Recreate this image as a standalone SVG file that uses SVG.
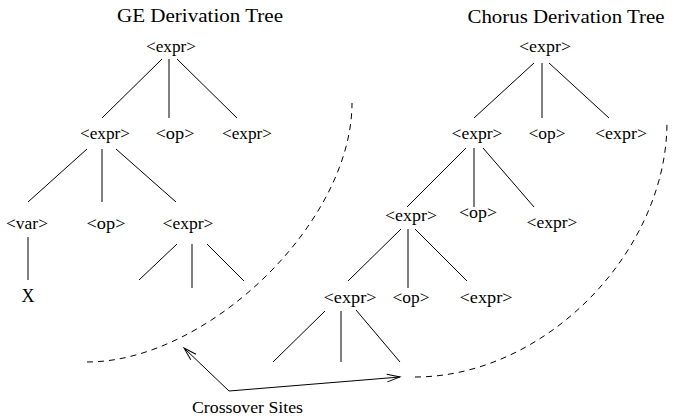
<svg xmlns="http://www.w3.org/2000/svg" width="683" height="419" viewBox="0 0 683 419">
<style>
text{font-family:"Liberation Serif","Times New Roman",serif;font-size:17px;fill:#000;text-anchor:middle}
.t{font-size:18.5px}
.e{stroke:#000;stroke-width:1;fill:none}
.d{stroke:#000;stroke-width:1;fill:none;stroke-dasharray:6,5}
</style>
<defs>
<marker id="ah" markerUnits="userSpaceOnUse" markerWidth="16" markerHeight="12" viewBox="-14 -6 16 12" refX="0" refY="0" orient="auto">
<path d="M-13,-3.8 L0,0 L-13,3.8" fill="none" stroke="#000" stroke-width="1"/>
</marker>
</defs>
<g id="titles">
<text class="t" x="200" y="22" textLength="166" lengthAdjust="spacingAndGlyphs">GE Derivation Tree</text>
<text class="t" x="566" y="23" textLength="197" lengthAdjust="spacingAndGlyphs">Chorus Derivation Tree</text>
</g>
<g id="ge-tree">
<g id="ge-root"><text x="171" y="52" textLength="50" lengthAdjust="spacingAndGlyphs">&lt;expr&gt;</text></g>
<g id="ge-l2-expr"><text x="105" y="139" textLength="50" lengthAdjust="spacingAndGlyphs">&lt;expr&gt;</text></g>
<g id="ge-l2-op"><text x="175" y="139" textLength="39" lengthAdjust="spacingAndGlyphs">&lt;op&gt;</text></g>
<g id="ge-l2-expr2"><text x="247" y="139" textLength="50" lengthAdjust="spacingAndGlyphs">&lt;expr&gt;</text></g>
<g id="ge-l3-var"><text x="27" y="229" textLength="42" lengthAdjust="spacingAndGlyphs">&lt;var&gt;</text></g>
<g id="ge-l3-op"><text x="106" y="229" textLength="39" lengthAdjust="spacingAndGlyphs">&lt;op&gt;</text></g>
<g id="ge-l3-expr"><text x="188" y="229" textLength="51" lengthAdjust="spacingAndGlyphs">&lt;expr&gt;</text></g>
<g id="ge-x"><text x="28" y="302" style="font-size:18px">X</text></g>
</g>
<g id="chorus-tree">
<g id="ch-root"><text x="545" y="52" textLength="52" lengthAdjust="spacingAndGlyphs">&lt;expr&gt;</text></g>
<g id="ch-l2-expr"><text x="477" y="139" textLength="51" lengthAdjust="spacingAndGlyphs">&lt;expr&gt;</text></g>
<g id="ch-l2-op"><text x="547" y="139" textLength="37" lengthAdjust="spacingAndGlyphs">&lt;op&gt;</text></g>
<g id="ch-l2-expr2"><text x="621" y="139" textLength="52" lengthAdjust="spacingAndGlyphs">&lt;expr&gt;</text></g>
<g id="ch-l3-expr"><text x="411" y="221" textLength="52" lengthAdjust="spacingAndGlyphs">&lt;expr&gt;</text></g>
<g id="ch-l3-op"><text x="478" y="218" textLength="38" lengthAdjust="spacingAndGlyphs">&lt;op&gt;</text></g>
<g id="ch-l3-expr2"><text x="552" y="228" textLength="51" lengthAdjust="spacingAndGlyphs">&lt;expr&gt;</text></g>
<g id="ch-l4-expr"><text x="350" y="303" textLength="53" lengthAdjust="spacingAndGlyphs">&lt;expr&gt;</text></g>
<g id="ch-l4-op"><text x="411" y="303" textLength="37" lengthAdjust="spacingAndGlyphs">&lt;op&gt;</text></g>
<g id="ch-l4-expr2"><text x="486" y="303" textLength="53" lengthAdjust="spacingAndGlyphs">&lt;expr&gt;</text></g>
</g>
<g id="connectors">
<path class="e" d="M162,59 L102,118 M169,59 L169,118 M177,59 L237,118"/>
<path class="e" d="M87,149 L28,202 M102,149 L102,202 M116,149 L176,202"/>
<path class="e" d="M28,237 L28,280"/>
<path class="e" d="M177,244 L139,280 M192,244 L192,288 M207,244 L244,281"/>
<path class="e" d="M534,63 L474,118 M542,63 L542,118 M549,63 L609,118"/>
<path class="e" d="M466,148 L407,207 M474,148 L474,207 M483,148 L534,207"/>
<path class="e" d="M401,229 L348,281 M408,229 L408,288 M415,229 L467,281"/>
<path class="e" d="M325,311 L273,362 M341,311 L341,362 M356,310 L400,362"/>
<path class="d" d="M87,362 C207,362 352,223 352,103"/>
<path class="d" d="M415,377 C545,377 667,252 667,122"/>
<line class="e" x1="229" y1="391" x2="184" y2="348" marker-end="url(#ah)"/>
<line class="e" x1="229" y1="391" x2="400" y2="377" marker-end="url(#ah)"/>
</g>
<g id="label-crossover">
<text x="247.5" y="413" textLength="111" lengthAdjust="spacingAndGlyphs">Crossover Sites</text>
</g>
</svg>
